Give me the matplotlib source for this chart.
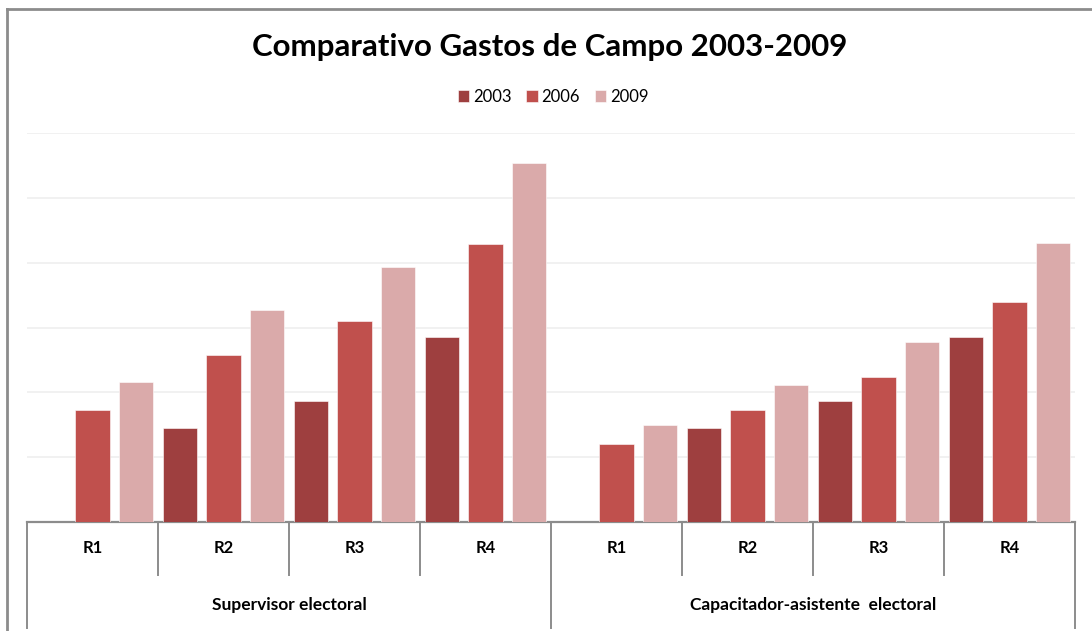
import matplotlib
matplotlib.use("Agg")
import matplotlib.pyplot as plt
from matplotlib.lines import Line2D
import numpy as np

plt.rcParams['font.family'] = ['Lato', 'DejaVu Sans']

title = "Comparativo Gastos de Campo 2003-2009"
groups = ["Supervisor electoral", "Capacitador-asistente  electoral"]
regions = ["R1", "R2", "R3", "R4"]
years = ["2003", "2006", "2009"]
colors = ["#9E3F3F", "#C0504D", "#DAAAAA"]

# values (arbitrary units; y axis has no labels), order: Supervisor R1..R4, Capacitador R1..R4
v2003 = [0.0, 1.45, 1.86, 2.86, 0.0, 1.45, 1.86, 2.86]
v2006 = [1.73, 2.57, 3.10, 4.29, 1.21, 1.73, 2.23, 3.40]
v2009 = [2.16, 3.27, 3.94, 5.53, 1.49, 2.12, 2.77, 4.31]
series = [v2003, v2006, v2009]

W, H = 1092, 631
fig = plt.figure(figsize=(W / 100, H / 100), dpi=100)
ax = fig.add_axes([27 / W, 1 - 522 / H, (1075 - 27) / W, (522 - 133) / H])

n = len(v2003)
x = np.arange(n) + 0.5
off = 0.332
bw = 0.26
for k, (vals, c, lab) in enumerate(zip(series, colors, years)):
    ax.bar(x + (k - 1) * off, vals, width=bw, color=c, label=lab,
           edgecolor="white", linewidth=0.4, zorder=3)

ax.set_xlim(0, n)
ax.set_ylim(0, 6)
ax.set_yticks(np.arange(0, 7, 1))
ax.yaxis.grid(True, color="#EFEFEF", linewidth=1.2, zorder=0)
ax.tick_params(axis="y", length=0, labelleft=False)
ax.tick_params(axis="x", length=0, labelbottom=False)
for s in ["top", "right", "left"]:
    ax.spines[s].set_visible(False)
ax.spines["bottom"].set_color("#8C8C8C")
ax.spines["bottom"].set_linewidth(1.6)


def fy(py):
    return 1 - py / H


# category axis: separators and labels
for i in range(n + 1):
    xd = ax.transData.transform((i, 0))[0] / W
    bottom = 628 if i % 4 == 0 else 575
    fig.add_artist(Line2D([xd, xd], [fy(522), fy(bottom)], color="#8C8C8C",
                          linewidth=1.4))

for i in range(n):
    xd = ax.transData.transform((x[i], 0))[0] / W
    fig.text(xd, fy(548), regions[i % 4], ha="center", va="center",
             fontsize=12, fontweight="bold", color="#000000")
for g in range(2):
    xd = ax.transData.transform((g * 4 + 2, 0))[0] / W
    fig.text(xd, fy(605), groups[g], ha="center", va="center",
             fontsize=12.5, fontweight="bold", color="#000000")

# title and legend
fig.text(550 / W, fy(47), title, ha="center", va="center",
         fontsize=22.5, fontweight="bold", color="#000000")
handles, labels = ax.get_legend_handles_labels()
fig.legend(handles, labels, loc="center", bbox_to_anchor=(553 / W, fy(97)),
           ncol=3, frameon=False, fontsize=12, handlelength=0.7,
           handleheight=0.7, handletextpad=0.2, columnspacing=0.9)

# outer frame (top and left)
fig.add_artist(Line2D([7 / W, 1.0], [fy(9), fy(9)], color="#8C8C8C", linewidth=2))
fig.add_artist(Line2D([7 / W, 7 / W], [fy(9), 0.0], color="#8C8C8C", linewidth=2))

fig.savefig("out.png", dpi=100)
